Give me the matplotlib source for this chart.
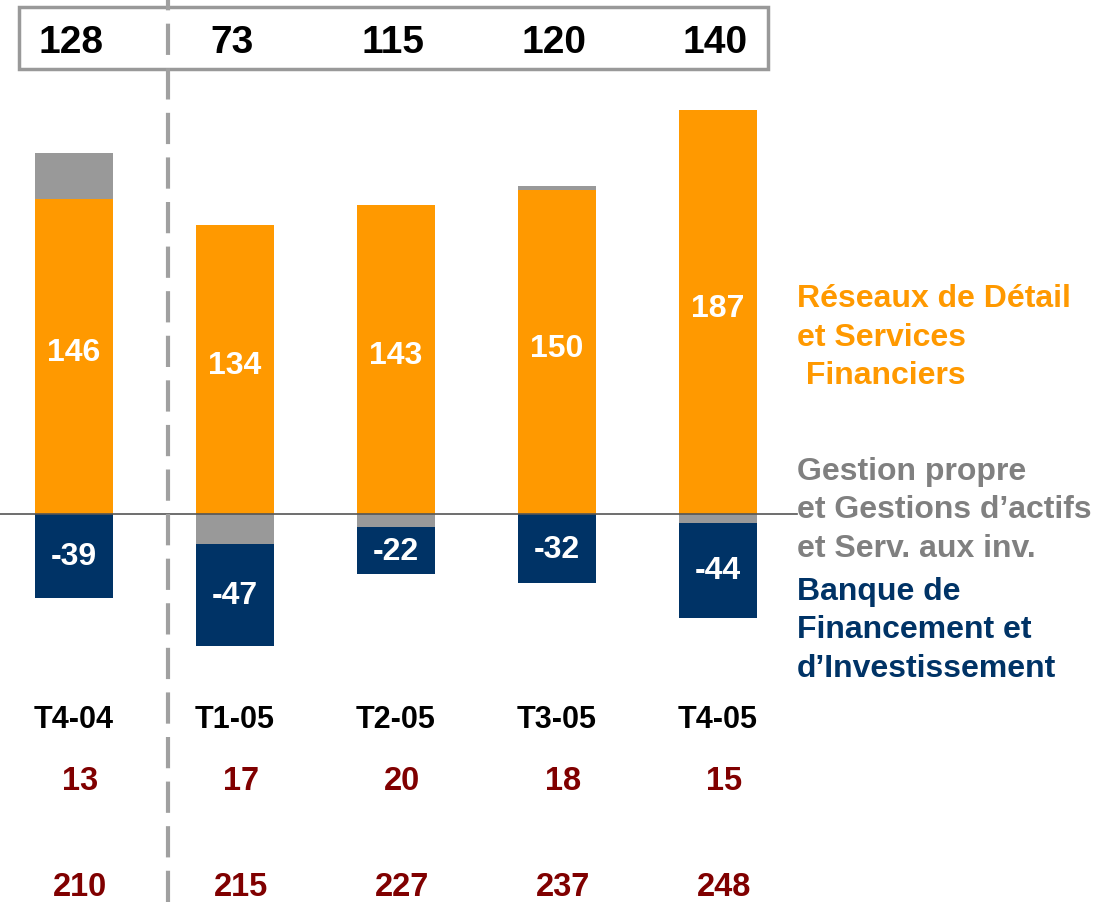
import matplotlib
matplotlib.use("Agg")
import matplotlib.pyplot as plt
from matplotlib.lines import Line2D
from matplotlib.patches import Rectangle
import matplotlib.transforms as mtransforms
import numpy as np

# Données
quarters = ["T4-04", "T1-05", "T2-05", "T3-05", "T4-05"]
totals = [128, 73, 115, 120, 140]
rdsf = [146, 134, 143, 150, 187]
gestion = [21, -14, -6, 2, -4]
bfi = [-39, -47, -22, -32, -44]
row_a = [13, 17, 20, 18, 15]
row_b = [210, 215, 227, 237, 248]

ORANGE = "#FF9900"
GREY = "#999999"
NAVY = "#003366"
DARKRED = "#800000"

plt.rcParams["font.family"] = ["Liberation Sans", "DejaVu Sans"]
plt.rcParams["font.weight"] = "bold"

W, H = 1096, 903
fig = plt.figure(figsize=(W / 100, H / 100), dpi=100)
ax = fig.add_axes([0, 0, 1, 1])
ax.axis("off")

# échelle : 161 px par trimestre, 2.16 px par unité
step, unit = 161.0, 2.16
x0, y0 = 74.0, 515.0
ax.set_xlim(-x0 / step, (W - x0) / step)
ax.set_ylim(-(H - y0) / unit, y0 / unit)


def px(x, y):
    """pixels (origine en haut à gauche) -> fraction de figure"""
    return x / W, 1 - y / H


x = np.arange(len(quarters))
rdsf = np.array(rdsf)
gestion = np.array(gestion)
bfi = np.array(bfi)
width = 78 / step

ax.bar(x, rdsf, width, color=ORANGE, zorder=2)
g_bottom = np.where(gestion > 0, rdsf, 0)
ax.bar(x, gestion, width, bottom=g_bottom, color=GREY, zorder=2)
b_bottom = np.minimum(gestion, 0)
ax.bar(x, bfi, width, bottom=b_bottom, color=NAVY, zorder=2)

# ligne du zéro
ax.add_line(Line2D([0, 797 / W], [0, 0],
                   transform=mtransforms.blended_transform_factory(ax.transAxes, ax.transData),
                   color="#555555", lw=1.2, zorder=3))

# valeurs dans les barres
for i in x:
    ax.text(i, rdsf[i] / 2 + 2, f"{rdsf[i]}", color="white", fontsize=23,
            ha="center", va="center", zorder=4)
    ax.text(i, b_bottom[i] + bfi[i] / 2, f"{bfi[i]}", color="white", fontsize=23,
            ha="center", va="center", zorder=4)

# rangées de texte (axe x en données, y en pixels)
tr = mtransforms.blended_transform_factory(ax.transData, fig.transFigure)
for i in x:
    ax.text(i - 0.02, px(0, 43)[1], f"{totals[i]}", transform=tr, fontsize=28,
            ha="center", va="center", color="black")
    ax.text(i, px(0, 720)[1], quarters[i], transform=tr, fontsize=22,
            ha="center", va="center", color="black")
    ax.text(i + 0.04, px(0, 782)[1], f"{row_a[i]}", transform=tr, fontsize=23.5,
            ha="center", va="center", color=DARKRED)
    ax.text(i + 0.04, px(0, 888)[1], f"{row_b[i]}", transform=tr, fontsize=23.5,
            ha="center", va="center", color=DARKRED)

# cadre des totaux
bx, by = px(19, 70)
bx2, by2 = px(768, 8)
fig.patches.append(Rectangle((bx, by), bx2 - bx, by2 - by, transform=fig.transFigure,
                             fill=False, edgecolor="#999999", lw=2.5, zorder=5))

# séparation pointillée
lx = 168 / W
fig.lines.append(Line2D([lx, lx], [0, 1], transform=fig.transFigure, color="#A0A0A0",
                        lw=3, linestyle=(0, (7.5, 3.2)), zorder=6))

# légende
legend = [
    (["Réseaux de Détail", "et Services", " Financiers"], 299, ORANGE),
    (["Gestion propre", "et Gestions d’actifs", "et Serv. aux inv."], 472, "#808080"),
    (["Banque de", "Financement et", "d’Investissement"], 592, NAVY),
]
for lines, ytop, col in legend:
    for k, line in enumerate(lines):
        fx, fy = px(797, ytop + 38.5 * k)
        fig.text(fx, fy, line, fontsize=23, color=col, ha="left", va="center")

fig.savefig("out.png", dpi=100)
plt.close(fig)
